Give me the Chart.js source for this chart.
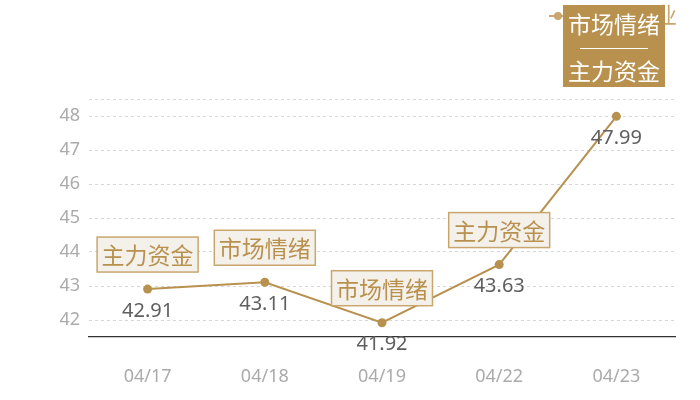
<!DOCTYPE html>
<html>
<head>
<meta charset="utf-8">
<script src="https://cdn.jsdelivr.net/npm/chart.js@4"></script>
<style>
  html, body { margin: 0; padding: 0; background: #fff; }
  #wrap { width: 700px; height: 400px; position: relative; }
</style>
</head>
<body>
<div id="wrap"><canvas id="trend" width="700" height="400"></canvas></div>
<script>
const dates = ["04/17", "04/18", "04/19", "04/22", "04/23"];
const prices = [42.91, 43.11, 41.92, 43.63, 47.99];
const tags = ["主力资金", "市场情绪", "市场情绪", "主力资金", null];
const yTicks = [42, 43, 44, 45, 46, 47, 48];
const topTags = ["市场情绪", "主力资金"];

const colors = {
  gold: "#b8914f",
  goldLight: "#c9a66e",
  tagFill: "#f4f0ea",
  value: "#5f5f5f",
  tick: "#ababab",
  grid: "#d6d6d6",
  axis: "#333",
};

const cnFont = "'Noto Sans CJK SC', 'Noto Sans', sans-serif";
const numFont = "'Noto Sans', 'Open Sans', sans-serif";

// labels + tag boxes drawn at the point positions from the scales
const tagPlugin = {
  id: "tags",
  afterDatasetsDraw(chart) {
    const ctx = chart.ctx;
    const meta = chart.getDatasetMeta(0);
    ctx.save();
    meta.data.forEach((pt, i) => {
      const x = pt.x, y = pt.y;
      // value under the point
      ctx.font = "20px " + numFont;
      ctx.fillStyle = colors.value;
      ctx.textAlign = "center";
      ctx.textBaseline = "middle";
      ctx.fillText(prices[i].toFixed(2), x, y + 22);

      if (!tags[i]) return;
      const w = 101, h = 35;
      const bx = x - w / 2, by = y - 17 - h;
      ctx.fillStyle = colors.tagFill;
      ctx.fillRect(bx, by, w, h);
      ctx.strokeStyle = colors.goldLight;
      ctx.lineWidth = 1.5;
      ctx.strokeRect(bx, by, w, h);
      ctx.font = "23px " + cnFont;
      ctx.fillStyle = colors.gold;
      ctx.fillText(tags[i], x, by + h / 2 + 1);
    });

    // top summary box with legend marker behind it
    ctx.strokeStyle = colors.goldLight;
    ctx.lineWidth = 2;
    ctx.beginPath();
    ctx.moveTo(549, 16);
    ctx.lineTo(565, 16);
    ctx.stroke();
    ctx.fillStyle = colors.goldLight;
    ctx.beginPath();
    ctx.arc(558, 16, 4, 0, Math.PI * 2);
    ctx.fill();
    ctx.font = "22px " + cnFont;
    ctx.textAlign = "right";
    ctx.fillText("业", 677, 15);

    const bx = 563, by = 5, bw = 102, bh = 82;
    ctx.fillStyle = colors.gold;
    ctx.fillRect(bx, by, bw, bh);
    ctx.fillStyle = "#fff";
    ctx.textAlign = "center";
    ctx.font = "23px " + cnFont;
    ctx.fillText(topTags[0], bx + bw / 2, 24);
    ctx.fillText(topTags[1], bx + bw / 2, 71);
    ctx.strokeStyle = "#fff";
    ctx.lineWidth = 1.2;
    ctx.beginPath();
    ctx.moveTo(bx + 17, 48.5);
    ctx.lineTo(bx + bw - 17, 48.5);
    ctx.stroke();
    ctx.restore();
  },
};

new Chart(document.getElementById("trend").getContext("2d"), {
  type: "line",
  data: {
    labels: dates,
    datasets: [
      {
        data: prices,
        borderColor: colors.gold,
        backgroundColor: colors.gold,
        borderWidth: 2,
        pointRadius: 4.5,
        pointBackgroundColor: colors.gold,
        pointBorderWidth: 0,
        tension: 0,
      },
    ],
  },
  options: {
    responsive: false,
    animation: false,
    devicePixelRatio: 1,
    layout: { padding: { top: 99, right: 25, left: 0, bottom: 0 } },
    plugins: { legend: { display: false }, tooltip: { enabled: false } },
    scales: {
      x: {
        offset: true,
        grid: { display: false },
        border: { display: true, color: colors.axis, width: 1.2 },
        ticks: { color: colors.tick, font: { family: numFont, size: 18 }, padding: 21 },
        afterFit: (s) => { s.height = 63; },
      },
      y: {
        min: 41.5,
        max: 48.5,
        afterBuildTicks: (s) => {
          s.ticks = yTicks.concat([48.5]).map((v) => ({ value: v }));
        },
        grid: { color: colors.grid, drawTicks: false },
        border: { display: false, dash: [3, 3] },
        ticks: {
          color: colors.tick,
          font: { family: numFont, size: 18 },
          padding: 9,
          callback: (v) => (Number.isInteger(v) ? v : ""),
        },
        afterFit: (s) => { s.width = 89; },
      },
    },
  },
  plugins: [tagPlugin],
});
</script>
</body>
</html>
